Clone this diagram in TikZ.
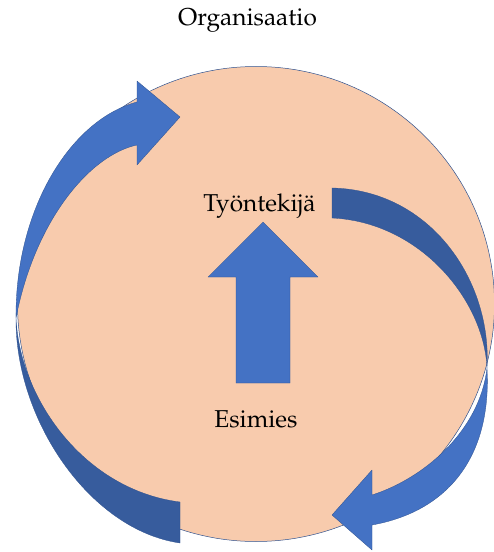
\documentclass[tikz,border=0pt]{standalone}
\usepackage[T1]{fontenc}
\usepackage{mathpazo}
\usepackage{xcolor}
\definecolor{peach}{HTML}{F8CBAD}
\definecolor{frontblue}{HTML}{4472C4}
\definecolor{backblue}{HTML}{375C9D}
\definecolor{edgeblue}{HTML}{2F528F}

\begin{document}
\begin{tikzpicture}[x=1bp,y=-1bp,line cap=round,line join=round,
    front/.style={fill=frontblue,draw=edgeblue,line width=0.3pt},
    back/.style={fill=backblue,draw=edgeblue,line width=0.3pt},
    label/.style={anchor=base,inner sep=0pt,font=\fontsize{24.5}{29}\selectfont}]
    \useasboundingbox (0,0) rectangle (494,552);
    % circle
    \fill[peach,draw=edgeblue,line width=0.5pt] (256,304) ellipse [x radius=238.5,y radius=237.5];
    % left arrow, back and front
    \coordinate (ltwist) at (16,318);
    \draw[back] (180,543) .. controls (90,530) and (15,420) .. (ltwist)
      .. controls (20,400) and (85,490) .. (180,502) -- cycle;
    \draw[front] (ltwist) .. controls (15,210) and (70,120) .. (137,102)
      -- (137,81) -- (180,117) -- (137,165) -- (137,145)
      .. controls (90,155) and (35,220) .. (ltwist) -- cycle;
    % right arrow, back and front
    \coordinate (rtwist) at (487,368);
    \draw[back] (332,188) .. controls (430,190) and (492,280) .. (rtwist)
      .. controls (484,300) and (420,222) .. (332,218) -- cycle;
    \draw[front] (rtwist) .. controls (492,460) and (445,512) .. (372,525)
      -- (372,550) -- (332,515) -- (372,470) -- (372,495)
      .. controls (425,478) and (480,430) .. (rtwist) -- cycle;
    % up arrow
    \draw[front] (236,383) -- (236,277) -- (208,277) -- (263,222)
      -- (318,277) -- (290,277) -- (290,383) -- cycle;
    % texts
    \node[label] (org) at (247.5,26) {Organisaatio};
    \node[label] (worker) at (259.5,212) {Ty\"ontekij\"a};
    \node[label] (boss) at (256,427) {Esimies};
\end{tikzpicture}
\end{document}
